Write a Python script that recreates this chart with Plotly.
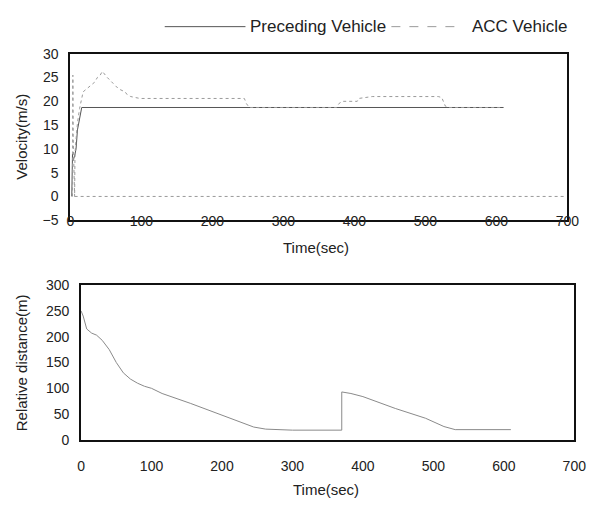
import plotly.graph_objects as go

# ---------------- data ----------------
# Preceding vehicle velocity (m/s)
prec_t = [2, 2.5, 3, 3.5, 6, 8, 10, 13, 16, 610]
prec_v = [0, 4.4, 8.9, 7.5, 8.5, 10, 14, 16.5, 18.7, 18.7]

# ACC vehicle velocity (m/s)
acc_t = [3, 3.5, 4, 6, 6.5, 8, 10, 13, 15, 18, 22, 26, 30, 34, 38, 42, 45, 52, 60, 68, 77, 80, 85, 92, 98,
         245, 248, 252, 375, 378, 383, 404, 406, 425, 518, 523, 528, 532, 610]
acc_v = [0, 25.5, 12, 0, 9, 12, 15.5, 18.5, 20, 22, 22.5, 23, 23.5, 24, 25, 25.5, 26.3, 25, 23.8, 22.6, 22, 21.4, 21, 20.8, 20.6,
         20.6, 19.5, 18.7, 18.7, 19.5, 20, 20, 20.6, 21, 21, 20.8, 19, 18.7, 18.7]

# zero reference line in velocity plot
zero_t = [6, 697]
zero_v = [0, 0]

# Relative distance (m)
dist_t = [0, 3, 8, 15, 22, 30, 40, 50, 60, 70, 80, 90, 100, 115, 155, 200, 230, 245, 262, 300, 370, 370,
          383, 400, 446, 489, 515, 531, 610]
dist_v = [250, 240, 215, 207, 203, 193, 175, 150, 130, 118, 110, 104, 100, 90, 71, 48, 32, 25, 21, 19, 19, 93,
          90, 84, 61, 42, 26, 20, 20]

x_ticks = [0, 100, 200, 300, 400, 500, 600, 700]
v_ticks = [-5, 0, 5, 10, 15, 20, 25, 30]
d_ticks = [0, 50, 100, 150, 200, 250, 300]

# ---------------- figure ----------------
# page body has an 8px margin; size the figure so the whole page is 604x515
OFF = 8
W, H = 604 - 2 * OFF, 515 - 2 * OFF
FONT = "Liberation Sans, Arial, sans-serif"
TXT = "#222222"

def px(x):
    return (x - OFF) / W

def py(y):
    return 1 - (y - OFF) / H

fig = go.Figure()

fig.add_trace(go.Scatter(x=zero_t, y=zero_v, mode="lines", xaxis="x", yaxis="y",
                         line=dict(color="#9a9a9a", width=1, dash="dot"), showlegend=False))
fig.add_trace(go.Scatter(x=prec_t, y=prec_v, mode="lines", xaxis="x", yaxis="y",
                         line=dict(color="#555555", width=1), name="Preceding Vehicle", showlegend=False))
fig.add_trace(go.Scatter(x=acc_t, y=acc_v, mode="lines", xaxis="x", yaxis="y",
                         line=dict(color="#9a9a9a", width=1, dash="dot"), name="ACC Vehicle", showlegend=False))
fig.add_trace(go.Scatter(x=dist_t, y=dist_v, mode="lines", xaxis="x2", yaxis="y2",
                         line=dict(color="#8a8a8a", width=1), showlegend=False))

axis_common = dict(showline=True, mirror=True, linecolor="#111111", linewidth=2,
                   showgrid=False, zeroline=False, ticks="",
                   tickfont=dict(family=FONT, size=14, color=TXT))

fig.update_layout(
    width=W, height=H,
    margin=dict(l=0, r=0, t=0, b=0),
    paper_bgcolor="white", plot_bgcolor="white",
    font=dict(family=FONT, color=TXT),
    xaxis=dict(axis_common, domain=[px(68), px(579)], range=[0, 700], tickvals=x_ticks,
               anchor="y", ticklabelstandoff=-13),
    yaxis=dict(axis_common, domain=[py(219), py(47)], range=[-5, 30], tickvals=v_ticks,
               anchor="x", ticklabelstandoff=7),
    xaxis2=dict(axis_common, domain=[px(79), px(586)], range=[0, 700], tickvals=x_ticks,
                anchor="y2", ticklabelstandoff=12),
    yaxis2=dict(axis_common, domain=[py(446), py(286)], range=[0, 300], tickvals=d_ticks,
                anchor="x2", ticklabelstandoff=7),
)

# axis titles and legend texts
ann = [
    dict(text="Time(sec)", x=px(321), y=py(247)),
    dict(text="Time(sec)", x=px(331), y=py(497)),
    dict(text="Velocity(m/s)", x=px(18), y=py(133), textangle=-90),
    dict(text="Relative distance(m)", x=px(18), y=py(366), textangle=-90),
    dict(text="Preceding Vehicle", x=px(251), y=py(19), xanchor="left", size=17),
    dict(text="ACC Vehicle", x=px(479), y=py(19), xanchor="left", size=17),
]
for a in ann:
    fig.add_annotation(text=a["text"], x=a["x"], y=a["y"], xref="paper", yref="paper",
                       xanchor=a.get("xanchor", "center"), yanchor="middle",
                       textangle=a.get("textangle", 0), showarrow=False,
                       font=dict(family=FONT, size=a.get("size", 15), color=TXT))

# legend line samples
fig.add_shape(type="line", xref="paper", yref="paper", x0=px(165), x1=px(248), y0=py(19), y1=py(19),
              line=dict(color="#555555", width=1))
fig.add_shape(type="line", xref="paper", yref="paper", x0=px(398), x1=px(471), y0=py(19), y1=py(19),
              line=dict(color="#9a9a9a", width=1, dash="dash"))

fig.write_html("out.html")
